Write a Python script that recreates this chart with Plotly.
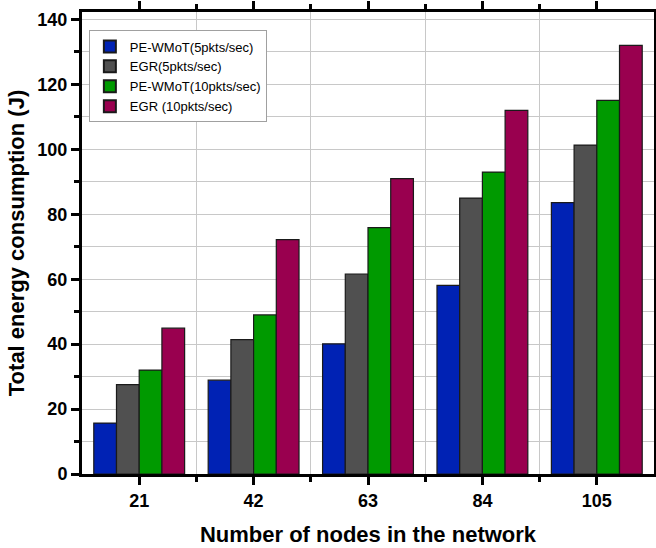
import plotly.graph_objects as go

categories = ["21", "42", "63", "84", "105"]
series_names = ["PE-WMoT(5pkts/sec)", "EGR(5pkts/sec)", "PE-WMoT(10pkts/sec)", "EGR (10pkts/sec)"]
pe_wmot_5 = [15.7, 28.9, 40.1, 58.1, 83.6]
egr_5 = [27.5, 41.4, 61.6, 85.0, 101.3]
pe_wmot_10 = [32.0, 49.0, 75.9, 93.0, 115.1]
egr_10 = [44.9, 72.2, 91.0, 112.0, 132.0]
y_ticks = [0, 20, 40, 60, 80, 100, 120, 140]

colors = ["#0022B4", "#505050", "#009A00", "#99004F"]
series = [pe_wmot_5, egr_5, pe_wmot_10, egr_10]
xpos = list(range(len(categories)))
boundaries = [i + 0.5 for i in range(len(categories) - 1)]

fig = go.Figure()
for name, vals, col in zip(series_names, series, colors):
    fig.add_trace(go.Bar(
        x=xpos, y=vals, name=name,
        marker=dict(color=col, line=dict(color="#1a1a1a", width=1.2)),
    ))

font_family = "Arial, 'Liberation Sans', sans-serif"
xr = [-0.5, len(categories) - 0.5]
yr = [0, 142.3]

fig.update_layout(
    width=656, height=548,
    margin=dict(l=82, r=2, t=12, b=74),
    paper_bgcolor="white", plot_bgcolor="white",
    barmode="group", bargap=0.206, bargroupgap=0,
    font=dict(family=font_family, color="black"),
    legend=dict(
        x=0.012, y=0.96, xanchor="left", yanchor="top",
        bgcolor="white", bordercolor="#a0a0a0", borderwidth=1,
        font=dict(family=font_family, size=13, color="black"),
        tracegroupgap=0, itemsizing="constant",
    ),
    xaxis=dict(
        range=xr, tickmode="array", tickvals=xpos, ticktext=categories,
        ticks="outside", ticklen=8, tickwidth=3, tickcolor="black",
        showline=True, linewidth=3, linecolor="black", mirror="ticks",
        automargin=False,
        showgrid=False, zeroline=False,
        tickfont=dict(size=18, weight="bold"),
        minor=dict(tickmode="array", tickvals=boundaries, ticks="outside",
                   ticklen=5, tickwidth=3, tickcolor="black",
                   showgrid=True, gridcolor="#c8c8c8", gridwidth=1),
        title=dict(text="Number of nodes in the network",
                   font=dict(size=22, weight="bold"), standoff=18),
    ),
    yaxis=dict(
        range=yr, tickmode="array", tickvals=y_ticks,
        ticks="outside", ticklen=8, tickwidth=3, tickcolor="black",
        showline=True, linewidth=3, linecolor="black", mirror="ticks",
        automargin=False,
        showgrid=False, zeroline=False,
        tickfont=dict(size=18, weight="bold"),
        minor=dict(tickmode="linear", tick0=0, dtick=10, ticks="outside",
                   ticklen=5, tickwidth=3, tickcolor="black",
                   showgrid=True, gridcolor="#c8c8c8", gridwidth=1),
        title=dict(text="Total energy consumption (J)",
                   font=dict(size=22, weight="bold"), standoff=7),
    ),
)

fig.write_html("out.html", config={"displayModeBar": False},
               post_script="document.body.style.margin='0';")
